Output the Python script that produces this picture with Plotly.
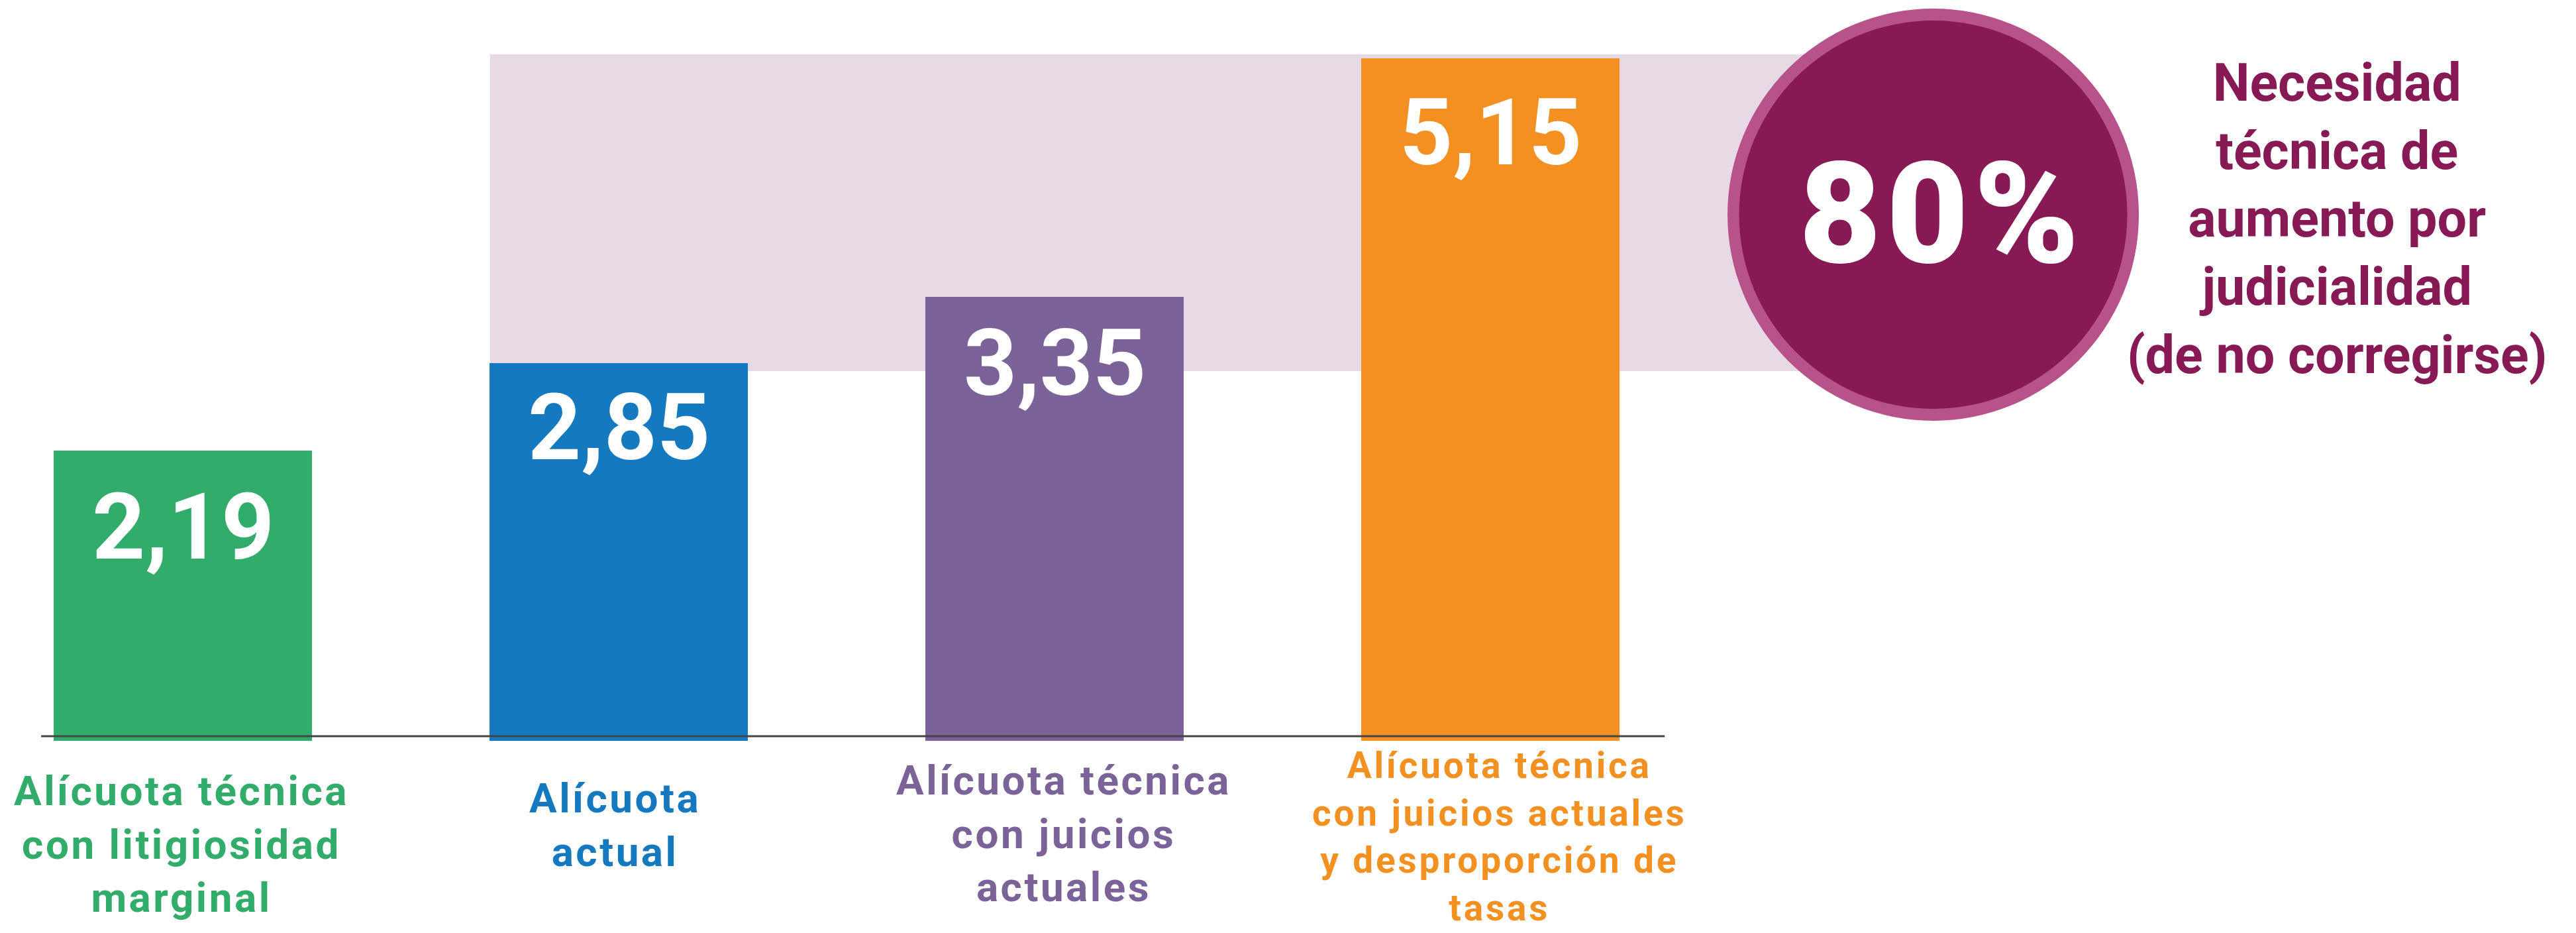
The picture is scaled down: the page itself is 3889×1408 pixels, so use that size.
import plotly.graph_objects as go

# ---- data ----
category_labels = [
    "Alícuota técnica<br>con litigiosidad<br>marginal",
    "Alícuota<br>actual",
    "Alícuota técnica<br>con juicios<br>actuales",
    "Alícuota técnica<br>con juicios actuales<br>y desproporción de<br>tasas",
]
values = [2.19, 2.85, 3.35, 5.15]
value_labels = ["2,19", "2,85", "3,35", "5,15"]
bar_colors = ["#31AC6A", "#1479BE", "#7B6399", "#F29121"]
highlight_value = "80%"
highlight_text = "Necesidad<br>técnica de<br>aumento por<br>judicialidad<br>(de no corregirse)"
band_range = [2.79, 5.18]

# ---- layout constants ----
W, H = 3889, 1408
label_y = [-0.78, -0.635, -0.70, -0.72]
label_size = [62, 62, 62, 55]
label_spacing = [3.5, 3.5, 3.5, 3.8]
label_xshift = [-2, -6, 14, 14]
value_shift = [-115, -97, -100, -112]


def spaced(text, px):
    return "<br>".join(
        f'<span style="letter-spacing:{px}px">{line}</span>' for line in text.split("<br>")
    )


fig = go.Figure()
fig.add_trace(go.Bar(
    x=category_labels, y=values, width=0.5927,
    marker=dict(color=bar_colors, line=dict(width=0)),
    hoverinfo="skip", showlegend=False,
))

# band
fig.add_shape(type="rect", xref="x", yref="y", x0=0.705, x1=4.0,
              y0=band_range[0], y1=band_range[1],
              fillcolor="#E8DAE4", line=dict(width=0), layer="below")

# baseline axis line
fig.add_shape(type="line", xref="x", yref="y", x0=-0.325, x1=3.40, y0=0.035, y1=0.035,
              line=dict(color="#454545", width=3), layer="above")

# circle
cx, cy = 4.016, 3.97
fig.add_shape(type="circle", xref="x", yref="y",
              x0=cx - 0.4719, x1=cx + 0.4719, y0=cy - 1.555, y1=cy + 1.555,
              fillcolor="#B8528A", line=dict(width=0), layer="above")
fig.add_shape(type="circle", xref="x", yref="y",
              x0=cx - 0.4453, x1=cx + 0.4453, y0=cy - 1.465, y1=cy + 1.465,
              fillcolor="#871A54", line=dict(width=0), layer="above")

# value labels inside bars
for cat, v, t, s in zip(category_labels, values, value_labels, value_shift):
    fig.add_annotation(x=cat, y=v, text=t, showarrow=False, yanchor="middle",
                       yshift=s,
                       font=dict(family="Roboto", size=140, color="white", weight="bold"))

# category labels
for cat, col, yy, sz, sp, xs in zip(category_labels, bar_colors, label_y, label_size,
                                    label_spacing, label_xshift):
    fig.add_annotation(x=cat, y=yy, text=spaced(cat, sp), showarrow=False, yanchor="middle",
                       align="center", xshift=xs,
                       font=dict(family="Roboto", size=sz, color=col, weight="bold"))

# 80% in the circle
fig.add_annotation(x=4.035, y=3.98, text=spaced(highlight_value, 8), showarrow=False,
                   xanchor="center", yanchor="middle",
                   font=dict(family="Roboto", size=214, color="white", weight=900))

# side text
fig.add_annotation(x=4.942, y=3.94, text=highlight_text, showarrow=False,
                   xanchor="center", yanchor="middle", align="center",
                   font=dict(family="Roboto", size=79, color="#871A54", weight="bold"))

fig.update_layout(
    width=W, height=H,
    margin=dict(l=0, r=0, t=0, b=0),
    paper_bgcolor="white", plot_bgcolor="white",
    showlegend=False, hovermode=False,
    xaxis=dict(range=[-0.4195, 5.4909], showticklabels=False, showgrid=False,
               zeroline=False, showline=False, ticks="", fixedrange=True),
    yaxis=dict(range=[-1.45, 5.59], showticklabels=False, showgrid=False,
               zeroline=False, showline=False, ticks="", fixedrange=True),
)

fig.write_html("out.html")
